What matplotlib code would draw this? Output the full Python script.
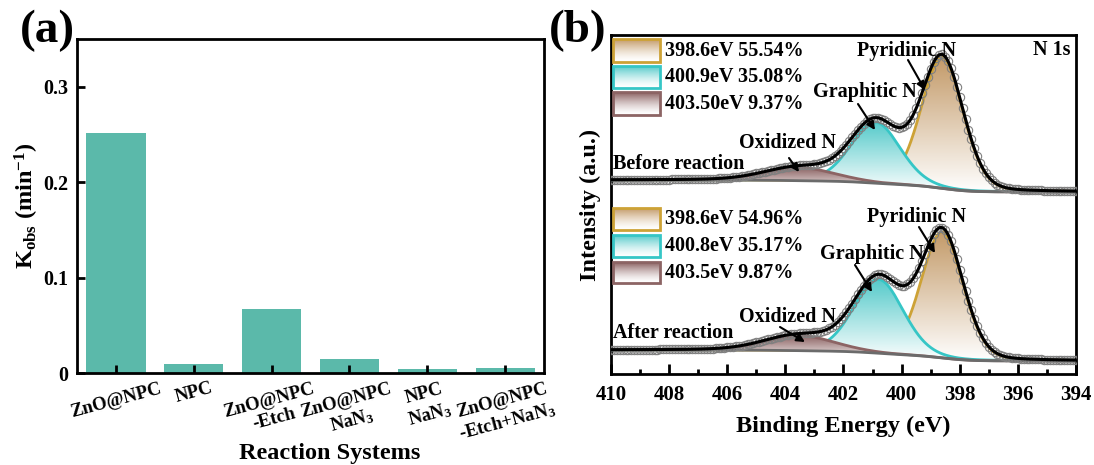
import numpy as np
import matplotlib
matplotlib.use('Agg')
import matplotlib.pyplot as plt
from matplotlib.colors import LinearSegmentedColormap
from matplotlib.patches import Rectangle

plt.rcParams['font.family'] = ['Liberation Serif', 'DejaVu Serif']
plt.rcParams['font.weight'] = 'bold'
plt.rcParams['axes.labelweight'] = 'bold'
plt.rcParams['mathtext.fontset'] = 'custom'
plt.rcParams['mathtext.rm'] = 'Liberation Serif:bold'
plt.rcParams['mathtext.it'] = 'Liberation Serif:bold:italic'
plt.rcParams['mathtext.bf'] = 'Liberation Serif:bold'

# ---- panel (a) data
systems = ['ZnO@NPC', 'NPC', 'ZnO@NPC\n-Etch', 'ZnO@NPC\nNaN$_3$',
           'NPC\nNaN$_3$', 'ZnO@NPC\n-Etch+NaN$_3$']
k_obs = [0.251, 0.009, 0.067, 0.015, 0.0045, 0.0055]

# ---- panel (b) data: fitted N 1s components (center eV, height, FWHM eV)
before_center = [398.6, 400.9, 403.5]
before_height = [131, 61, 13]
before_fwhm = [1.7, 2.0, 2.8]
before_bg = [194, 182]          # background at 410 eV and 394 eV
before_labels = ['398.6eV 55.54%', '400.9eV 35.08%', '403.50eV 9.37%']

after_center = [398.6, 400.8, 403.5]
after_height = [126, 74, 15]
after_fwhm = [1.7, 2.0, 2.8]
after_bg = [24, 13]
after_labels = ['398.6eV 54.96%', '400.8eV 35.17%', '403.5eV 9.87%']

edge_colors = ['#CDA236', '#36C6C6', '#8C6464']
fill_colors = ['#C39A68', '#55CACA', '#8A6060']

energy = np.arange(394, 410.001, 0.02)


def pseudo_voigt(x, c, h, w, eta=0.15):
    g = np.exp(-4 * np.log(2) * (x - c) ** 2 / w ** 2)
    l = 1 / (1 + 4 * (x - c) ** 2 / w ** 2)
    return h * ((1 - eta) * g + eta * l)


def grad_fill(ax, x, top, bot, color, zorder):
    poly = ax.fill_between(x, bot, top, facecolor='none', edgecolor='none')
    path = poly.get_paths()[0]
    cmap = LinearSegmentedColormap.from_list('g', ['white', color])
    grad = np.linspace(0, 1, 256).reshape(-1, 1)
    im = ax.imshow(grad, cmap=cmap, aspect='auto', origin='lower',
                   extent=[x.min(), x.max(), bot.min(), top.max()],
                   zorder=zorder, interpolation='bicubic')
    im.set_clip_path(path, transform=ax.transData)


def px(x, y):
    # pixel position in the figure -> data coords of panel b
    return 410 - (x - 611) / 29.06, 374 - y


def draw_spectrum(ax, centers, heights, fwhms, bg_ends):
    comps = [pseudo_voigt(energy, c, h, w) for c, h, w in zip(centers, heights, fwhms)]
    total = np.sum(comps, axis=0)
    cum = np.cumsum(total)
    bg = bg_ends[1] + (bg_ends[0] - bg_ends[1]) * cum / cum[-1]
    z = 2
    for comp, ec, fc in zip(comps, edge_colors, fill_colors):
        top = bg + comp
        grad_fill(ax, energy, top, bg, fc, z)
        ax.plot(energy, top, color=ec, lw=2, zorder=z + 0.5)
        z += 1
    ax.plot(energy, bg, color='#6b6b6b', lw=2, zorder=6)
    env = bg + total
    ax.plot(energy[::5], env[::5], 'o', mfc='none', mec='#808080', ms=6,
            mew=0.8, zorder=7)
    ax.plot(energy, env, color='k', lw=2.2, zorder=8)


def legend_boxes(ax, labels, rows):
    for lab, (y0, y1), ec, fc in zip(labels, rows, edge_colors, fill_colors):
        xa, ya = px(613, y1)
        xb, yb = px(660, y0)
        cmap = LinearSegmentedColormap.from_list('g', ['white', fc])
        grad = np.linspace(0, 1, 64).reshape(-1, 1) ** 1.5
        ax.imshow(grad, cmap=cmap, aspect='auto', origin='lower',
                  extent=[xa, xb, ya, yb], zorder=9, interpolation='bicubic')
        ax.add_patch(Rectangle((xa, ya), xb - xa, yb - ya, fill=False,
                               edgecolor=ec, lw=2, zorder=10))
        tx, ty = px(665, (y0 + y1) / 2)
        ax.text(tx, ty, lab, fontsize=14.5, ha='left', va='center', zorder=10)


def note(ax, text, tpos, tail, head, ha='center'):
    ax.text(*px(*tpos), text, fontsize=14.5, ha=ha, va='center', zorder=11)
    if tail is not None:
        ax.annotate('', xy=px(*head), xytext=px(*tail), zorder=11,
                    arrowprops=dict(arrowstyle='-|>', color='k', lw=1.5,
                                    mutation_scale=12, shrinkA=0, shrinkB=0))


fig = plt.figure(figsize=(10.94, 4.65), dpi=100)

# ---------------- (a)
ax1 = fig.add_axes([0.0704, 0.1978, 0.4269, 0.7183])
xpos = np.arange(len(systems))
ax1.bar(xpos, k_obs, width=0.76, color='#5BB9AA')
ax1.set_xlim(-0.5, 5.5)
ax1.set_ylim(0, 0.35)
ax1.set_yticks([0, 0.1, 0.2, 0.3])
ax1.set_yticklabels(['0', '0.1', '0.2', '0.3'])
ax1.set_xticks(xpos)
ax1.set_xticklabels(systems, rotation=15, ha='center', fontsize=13.5)
ax1.tick_params(axis='both', direction='in', length=6, width=2)
ax1.tick_params(axis='y', labelsize=14.5, pad=6)
ax1.tick_params(axis='x', pad=5)
for s in ax1.spines.values():
    s.set_linewidth(2)
ax1.set_ylabel('K$_{\\mathrm{obs}}$ (min$^{-1}$)', fontsize=17.5, va='center')
ax1.yaxis.set_label_coords(-0.107, 0.5)
ax1.set_xlabel('Reaction Systems', fontsize=17.5, va='center')
ax1.xaxis.set_label_coords(0.54, -0.24)
fig.text(47 / 1094, 1 - 31 / 465, '(a)', fontsize=34, fontweight='bold',
         ha='center', va='center')

# ---------------- (b)
ax2 = fig.add_axes([0.5585, 0.1957, 0.4250, 0.7290])
draw_spectrum(ax2, before_center, before_height, before_fwhm, before_bg)
draw_spectrum(ax2, after_center, after_height, after_fwhm, after_bg)
legend_boxes(ax2, before_labels, [(39, 62), (66, 88), (92, 115)])
legend_boxes(ax2, after_labels, [(208, 230), (235, 257), (262, 283)])

note(ax2, 'Pyridinic N', (907, 51), (908, 60), (925, 90))
note(ax2, 'Graphitic N', (865, 92), (858, 104), (875, 130))
note(ax2, 'Oxidized N', (788, 143), (789, 158), (799, 172))
note(ax2, 'Before reaction', (613, 164), None, None, ha='left')
note(ax2, 'N 1s', (1071, 50), None, None, ha='right')
note(ax2, 'Pyridinic N', (917, 217), (919, 227), (935, 253))
note(ax2, 'Graphitic N', (872, 254), (855, 265), (872, 292))
note(ax2, 'Oxidized N', (788, 317), (780, 327), (805, 342))
note(ax2, 'After reaction', (613, 333), None, None, ha='left')

ax2.set_xlim(410, 394)
ax2.set_ylim(0, 339)
ax2.set_xticks(np.arange(410, 393, -2))
ax2.set_xticks(np.arange(409, 394, -2), minor=True)
ax2.set_yticks([])
ax2.tick_params(axis='x', which='major', direction='in', length=7, width=2,
                labelsize=15, pad=8)
ax2.tick_params(axis='x', which='minor', direction='in', length=3.5, width=2)
for s in ax2.spines.values():
    s.set_linewidth(2)
ax2.set_xlabel('Binding Energy (eV)', fontsize=17.5, va='center')
ax2.xaxis.set_label_coords(0.5, -0.156)
ax2.set_ylabel('Intensity (a.u.)', fontsize=17.5, va='center')
ax2.yaxis.set_label_coords(-0.045, 0.5)
fig.text(578 / 1094, 1 - 31 / 465, '(b)', fontsize=34, fontweight='bold',
         ha='center', va='center')

fig.savefig('out.png', dpi=100)
